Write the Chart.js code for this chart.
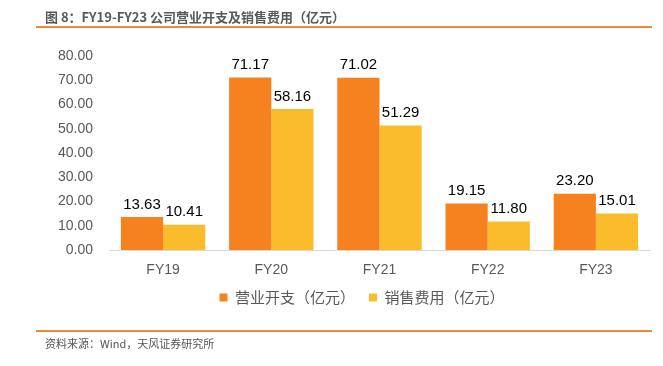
<!DOCTYPE html>
<html>
<head>
<meta charset="utf-8">
<script src="https://cdn.jsdelivr.net/npm/chart.js@4/dist/chart.umd.min.js"></script>
<style>
    body { margin: 0; background: #fff; font-family: "Liberation Sans", "Noto Sans CJK SC", sans-serif; }
    .wrap { position: relative; width: 663px; height: 366px; }
    .title { position: absolute; left: 45px; top: 7px; font-size: 13px; font-weight: bold; color: #595959; font-family: "Noto Sans CJK SC", sans-serif; }
    .line { position: absolute; left: 36px; width: 616px; height: 2px; background: #f0883a; }
    .source { position: absolute; left: 45px; top: 335px; font-size: 11px; color: #555; font-family: "Noto Sans CJK SC", sans-serif; }
    canvas { position: absolute; left: 0; top: 0; }
</style>
</head>
<body>
<div class="wrap">
    <canvas id="barChart" width="663" height="366"></canvas>
    <div class="title">图 8：FY19-FY23 公司营业开支及销售费用（亿元）</div>
    <div class="line" style="top: 26px;"></div>
    <div class="line" style="top: 330px;"></div>
    <div class="source">资料来源：Wind，天风证券研究所</div>
</div>
<script>
// Data
const categories = ['FY19', 'FY20', 'FY21', 'FY22', 'FY23'];
const opexValues = [13.63, 71.17, 71.02, 19.15, 23.20];
const salesValues = [10.41, 58.16, 51.29, 11.80, 15.01];
const seriesNames = ['营业开支（亿元）', '销售费用（亿元）'];

// Value labels above bars
const valueLabels = {
    id: 'valueLabels',
    afterDatasetsDraw(chart) {
        const ctx = chart.ctx;
        ctx.save();
        ctx.font = '15px "Liberation Sans", Arial, sans-serif';
        ctx.fillStyle = '#000';
        ctx.textAlign = 'center';
        ctx.textBaseline = 'bottom';
        chart.data.datasets.forEach((ds, i) => {
            chart.getDatasetMeta(i).data.forEach((bar, j) => {
                ctx.fillText(ds.data[j].toFixed(2), bar.x, bar.y - 5);
            });
        });
        ctx.restore();
    }
};

// Nudge legend so it sits under the plot like the original
const legendShift = {
    id: 'legendShift',
    afterLayout(chart) {
        chart.legend.left += 37;
        chart.legend.right += 37;
    }
};

const ctx = document.getElementById('barChart').getContext('2d');
const barChart = new Chart(ctx, {
    type: 'bar',
    data: {
        labels: categories,
        datasets: [{
            label: seriesNames[0],
            data: opexValues,
            backgroundColor: '#f5821f',
            categoryPercentage: 0.78,
            barPercentage: 1
        }, {
            label: seriesNames[1],
            data: salesValues,
            backgroundColor: '#fbbc2c',
            categoryPercentage: 0.78,
            barPercentage: 1
        }]
    },
    options: {
        responsive: false,
        animation: false,
        layout: {
            padding: { top: 56, right: 13, bottom: 51, left: 0 }
        },
        scales: {
            y: {
                min: 0,
                max: 80,
                ticks: {
                    stepSize: 10,
                    color: '#595959',
                    font: { size: 14, family: '"Liberation Sans", Arial, sans-serif' },
                    padding: 8,
                    callback: v => v.toFixed(2)
                },
                grid: { display: false },
                border: { display: false },
                afterFit(scale) { scale.width = 109; }
            },
            x: {
                ticks: {
                    color: '#595959',
                    font: { size: 14, family: '"Liberation Sans", Arial, sans-serif' },
                    padding: 4
                },
                grid: { display: false },
                border: { color: '#d9d9d9', width: 1 },
                afterFit(scale) { scale.height = 26; }
            }
        },
        plugins: {
            legend: {
                position: 'bottom',
                labels: {
                    boxWidth: 8,
                    boxHeight: 8,
                    color: '#595959',
                    font: { size: 15, family: '"Noto Sans CJK SC", sans-serif' },
                    padding: 14
                }
            },
            tooltip: { enabled: false }
        }
    },
    plugins: [valueLabels, legendShift]
});
</script>
</body>
</html>
